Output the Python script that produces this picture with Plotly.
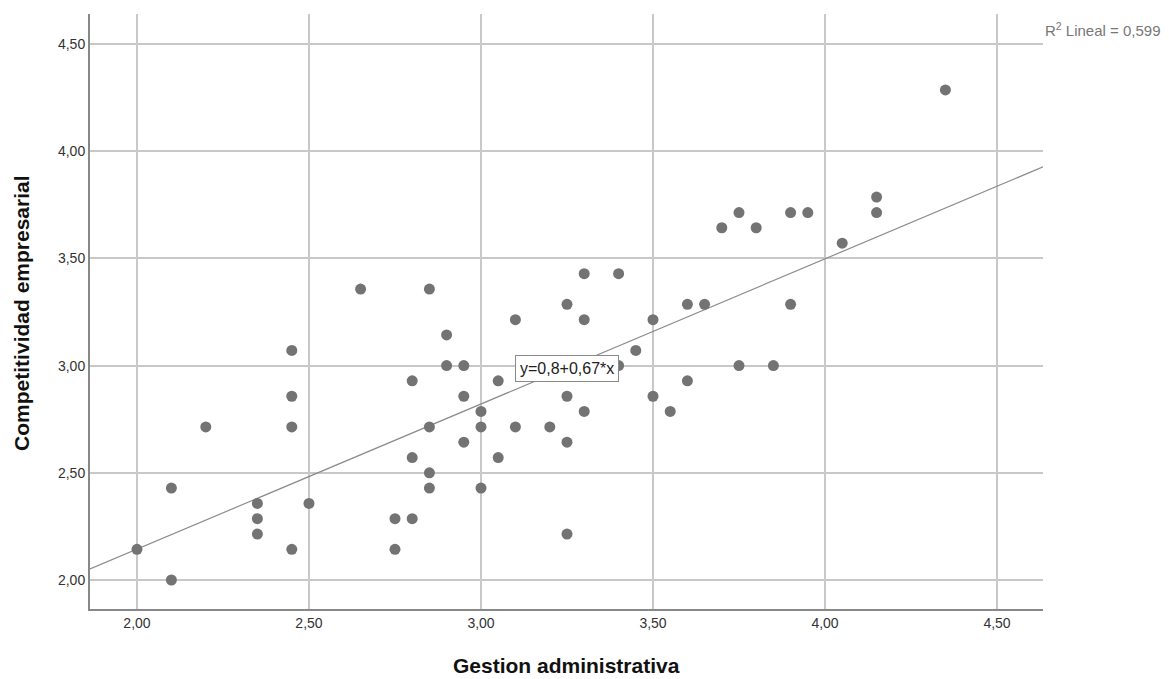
import numpy as np
import plotly.graph_objects as go

gestion = [2.00, 2.10, 2.10, 2.20, 2.35, 2.35, 2.35, 2.45, 2.45, 2.45, 2.45, 2.50,
           2.65, 2.75, 2.75, 2.80, 2.80, 2.80, 2.85, 2.85, 2.85, 2.85, 2.90, 2.90,
           2.95, 2.95, 2.95, 3.00, 3.00, 3.00, 3.05, 3.05, 3.10, 3.10, 3.20, 3.25,
           3.25, 3.25, 3.25, 3.30, 3.30, 3.30, 3.40, 3.40, 3.45, 3.50, 3.50, 3.55,
           3.60, 3.60, 3.65, 3.70, 3.75, 3.75, 3.80, 3.85, 3.90, 3.90, 3.95, 4.05,
           4.15, 4.15, 4.35]
competitividad = [2.143, 2.429, 2.000, 2.714, 2.357, 2.286, 2.214, 3.071, 2.857, 2.714, 2.143, 2.357,
                  3.357, 2.286, 2.143, 2.929, 2.571, 2.286, 3.357, 2.714, 2.500, 2.429, 3.143, 3.000,
                  3.000, 2.857, 2.643, 2.786, 2.714, 2.429, 2.929, 2.571, 3.214, 2.714, 2.714, 3.286,
                  2.857, 2.643, 2.214, 3.429, 3.214, 2.786, 3.429, 3.000, 3.071, 3.214, 2.857, 2.786,
                  3.286, 2.929, 3.286, 3.643, 3.714, 3.000, 3.643, 3.000, 3.714, 3.286, 3.714, 3.571,
                  3.786, 3.714, 4.286]
x_ticks = [2.0, 2.5, 3.0, 3.5, 4.0, 4.5]
y_ticks = [2.0, 2.5, 3.0, 3.5, 4.0, 4.5]
fit_intercept = 0.79
fit_slope = 0.677
fit_label = "y=0,8+0,67*x"
r2_label = "R<sup>2</sup> Lineal = 0,599"
x_title = "Gestion administrativa"
y_title = "Competitividad empresarial"

x_range = [1.8634, 4.6337]
y_range = [1.8647, 4.640]

line_x = np.array(x_range)
line_y = fit_intercept + fit_slope * line_x

FONT = "Liberation Sans, Arial, sans-serif"

fig = go.Figure()
fig.add_trace(go.Scatter(x=line_x, y=line_y, mode="lines",
                         line=dict(color="#8c8c8c", width=1.2), hoverinfo="skip",
                         showlegend=False))
fig.add_trace(go.Scatter(x=gestion, y=competitividad, mode="markers",
                         marker=dict(color="#737373", size=11, line=dict(width=0)),
                         showlegend=False))

fig.add_annotation(x=3.249, y=2.985, xref="x", yref="y", text=fit_label,
                   showarrow=False, font=dict(family=FONT, size=16, color="#222"),
                   bgcolor="white", bordercolor="#8a8a8a", borderwidth=1, borderpad=4)
fig.add_annotation(x=1.0, y=1.0, xref="paper", yref="paper", text=r2_label,
                   xanchor="left", yanchor="middle", xshift=0, yshift=-15, showarrow=False,
                   font=dict(family=FONT, size=15, color="#777"))
fig.add_annotation(x=0.5005, y=0, xref="paper", yref="paper", text="<b>" + x_title + "</b>",
                   xanchor="center", yanchor="middle", yshift=-56, showarrow=False,
                   font=dict(family=FONT, size=21, color="#111"))
fig.add_annotation(x=0, y=0.496, xref="paper", yref="paper", text="<b>" + y_title + "</b>",
                   xanchor="center", yanchor="middle", xshift=-68, textangle=-90, showarrow=False,
                   font=dict(family=FONT, size=21, color="#111"))

fig.update_layout(
    width=1161, height=671,
    margin=dict(l=82, r=126, t=6, b=70, pad=0),
    plot_bgcolor="white", paper_bgcolor="white",
    separators=",.",
    font=dict(family=FONT, size=14, color="#333"),
    xaxis=dict(range=x_range, tickvals=x_ticks, tickformat=".2f",
               showgrid=True, gridcolor="#c8c8c8", gridwidth=1.5,
               zeroline=False, showline=True, linecolor="#888", linewidth=2,
               ticks="", ticklen=0, tickfont=dict(size=14, color="#333")),
    yaxis=dict(range=y_range, tickvals=y_ticks, tickformat=".2f",
               showgrid=True, gridcolor="#c8c8c8", gridwidth=1.5,
               zeroline=False, showline=True, linecolor="#888", linewidth=2,
               ticks="", ticklen=0, tickfont=dict(size=14, color="#333")),
)

fig.write_html("out.html")
